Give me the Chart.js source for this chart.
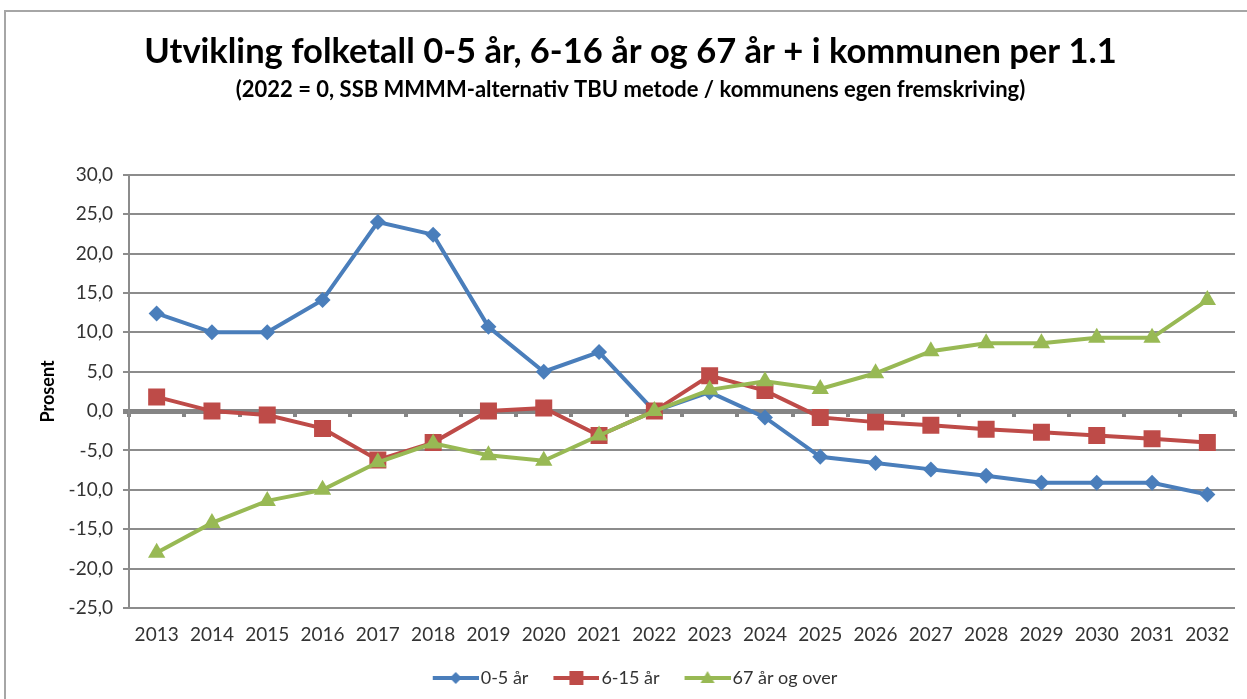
<!DOCTYPE html>
<html><head><meta charset="utf-8">
<script src="https://cdn.jsdelivr.net/npm/chart.js@4/dist/chart.umd.min.js"></script>
<style>
html,body{margin:0;padding:0;background:#fff;overflow:hidden;width:1247px;height:699px;}
#frame{position:absolute;left:4px;top:10px;width:1300px;height:800px;border:2px solid #a6a6a6;box-sizing:border-box;}
#c{position:absolute;left:0;top:0;}
</style></head><body>
<div id="frame"></div>
<canvas id="c" width="1247" height="699"></canvas>
<script>
const years = ['2013','2014','2015','2016','2017','2018','2019','2020','2021','2022','2023','2024','2025','2026','2027','2028','2029','2030','2031','2032'];
const age0to5 = [12.4, 10.0, 10.0, 14.1, 24.0, 22.4, 10.7, 5.0, 7.5, 0.0, 2.4, -0.8, -5.8, -6.6, -7.4, -8.2, -9.1, -9.1, -9.1, -10.6];
const age6to15 = [1.8, 0.0, -0.5, -2.2, -6.2, -4.0, 0.0, 0.4, -3.1, 0.0, 4.5, 2.6, -0.8, -1.4, -1.8, -2.3, -2.7, -3.1, -3.5, -4.0];
const age67plus = [-18.0, -14.2, -11.4, -10.0, -6.5, -4.1, -5.6, -6.3, -3.1, 0.0, 2.7, 3.8, 2.8, 4.8, 7.6, 8.6, 8.6, 9.3, 9.3, 14.1];
const seriesNames = ['0-5 år', '6-15 år', '67 år og over'];
const yTicks = {min: -25, max: 30, step: 5};
const titleText = 'Utvikling folketall 0-5 år, 6-16 år og 67 år + i kommunen per 1.1';
const subtitleText = '(2022 = 0, SSB MMMM-alternativ TBU metode / kommunens egen fremskriving)';
const yTitle = 'Prosent';

const F = 'Lato';
const BLUE = '#4a7ebb', RED = '#be4b48', GREEN = '#98b954';

// legend icon: transparent left margin (16px) + 46px line with marker in its middle
function makeIcon(color, shape){
  const c = document.createElement('canvas');
  c.width = 62; c.height = 20;
  const g = c.getContext('2d');
  const m = 16, cx = m + 23;
  g.strokeStyle = color; g.lineWidth = 4;
  g.beginPath(); g.moveTo(m,10); g.lineTo(62,10); g.stroke();
  g.fillStyle = color;
  g.beginPath();
  if (shape === 'diamond'){ g.moveTo(cx,4); g.lineTo(cx+6,10); g.lineTo(cx,16); g.lineTo(cx-6,10); g.closePath(); }
  else if (shape === 'square'){ g.rect(cx-7,3,14,14); }
  else { g.moveTo(cx,3); g.lineTo(cx+7,15); g.lineTo(cx-7,15); g.closePath(); }
  g.fill();
  return c;
}
const icons = [makeIcon(BLUE,'diamond'), makeIcon(RED,'square'), makeIcon(GREEN,'triangle')];

new Chart(document.getElementById('c'), {
  type: 'line',
  data: {
    labels: years,
    datasets: [
      {label: seriesNames[0], data: age0to5, borderColor: BLUE, backgroundColor: BLUE, borderWidth: 4, pointStyle: 'rectRot', pointRadius: 8, pointBackgroundColor: BLUE, pointBorderColor: BLUE, pointBorderWidth: 0, tension: 0, order: 3},
      {label: seriesNames[1], data: age6to15, borderColor: RED, backgroundColor: RED, borderWidth: 4, pointStyle: 'rect', pointRadius: 12, pointBackgroundColor: RED, pointBorderColor: RED, pointBorderWidth: 0, tension: 0, order: 2},
      {label: seriesNames[2], data: age67plus, borderColor: GREEN, backgroundColor: GREEN, borderWidth: 4, pointStyle: 'triangle', pointRadius: 10, pointBackgroundColor: GREEN, pointBorderColor: GREEN, pointBorderWidth: 0, tension: 0, order: 1}
    ]
  },
  options: {
    responsive: false,
    animation: false,
    layout: {padding: {left: 25, right: 11, top: 0, bottom: 2}},
    plugins: {
      title: {display: true, text: titleText, color: '#000', font: {family: F, size: 34.5, weight: 'bold'}, padding: {top: 31, bottom: 4}},
      subtitle: {display: true, text: subtitleText, color: '#000', font: {family: F, size: 22, weight: 'bold'}, padding: {top: 0, bottom: 72}},
      legend: {
        position: 'bottom',
        labels: {
          usePointStyle: true, pointStyleWidth: 48, color: '#333', padding: 16,
          font: {family: F, size: 18},
          sort: (a, b) => a.datasetIndex - b.datasetIndex,
          generateLabels: chart => Chart.defaults.plugins.legend.labels.generateLabels(chart).map(l => Object.assign(l, {pointStyle: icons[l.datasetIndex]}))
        }
      },
      tooltip: {enabled: false}
    },
    scales: {
      x: {
        type: 'category', position: 'bottom', offset: true,
        afterFit: s => { s.height = 45; },
        grid: {display: false, drawTicks: false}, border: {display: false},
        ticks: {color: '#333', font: {family: F, size: 19}, padding: 15, maxRotation: 0, autoSkip: false}
      },
      x0: {
        type: 'category', position: {y: 0}, offset: true,
        grid: {drawOnChartArea: false, drawTicks: true, tickLength: 6, lineWidth: 4, color: '#858585', offset: true},
        border: {display: false},
        ticks: {display: false}
      },
      y: {
        min: yTicks.min, max: yTicks.max,
        afterFit: s => { s.width = 104; },
        ticks: {stepSize: yTicks.step, color: '#333', font: {family: F, size: 19}, padding: 10,
          callback: v => Number(v).toFixed(1).replace('.', ',')},
        grid: {color: ctx => (ctx.tick && ctx.tick.value === 0) ? '#858585' : '#8c8c8c',
               lineWidth: ctx => (ctx.tick && ctx.tick.value === 0) ? 5 : 2, drawTicks: true, tickLength: 6},
        border: {display: true, color: '#8c8c8c', width: 2},
        title: {display: true, text: yTitle, color: '#000', font: {family: F, size: 18, weight: 'bold'}, padding: {top: 12, bottom: 0}}
      }
    }
  }
});
</script>
</body></html>
